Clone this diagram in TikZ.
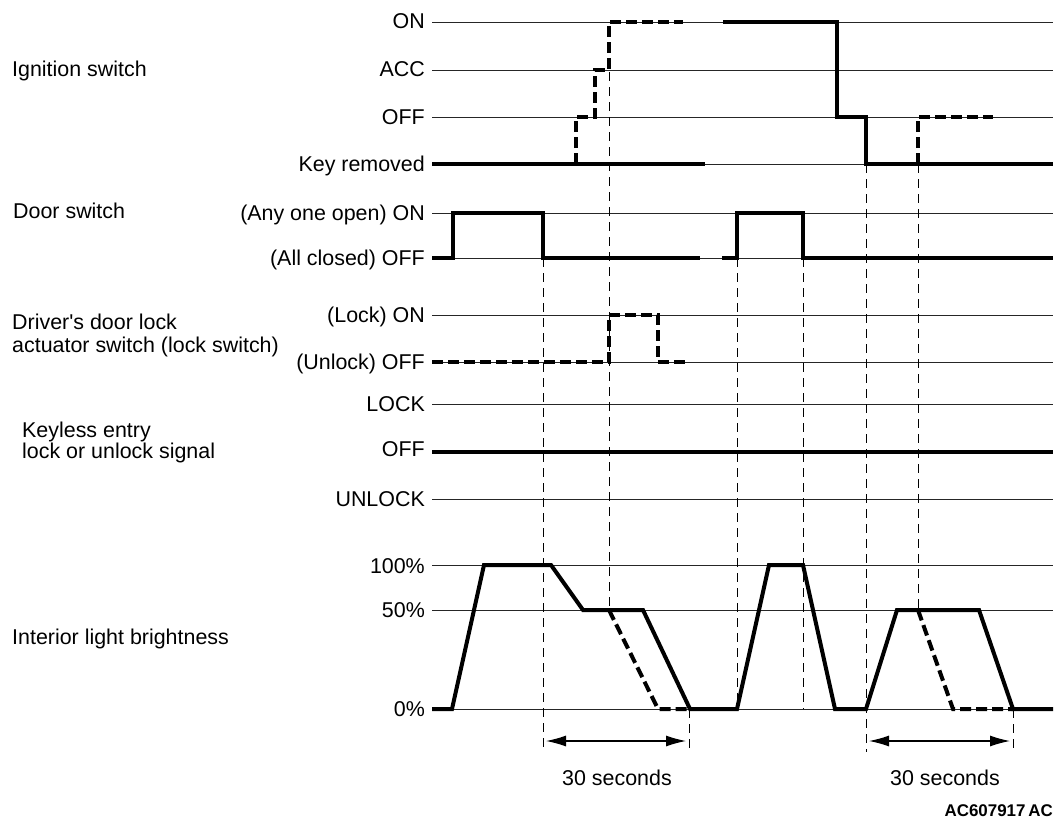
\documentclass[tikz,border=0pt]{standalone}
\usepackage{fontspec}
\setmainfont{Liberation Sans}[Ligatures=TeXOff]
\usetikzlibrary{arrows.meta}
\begin{document}
\begin{tikzpicture}[x=1bp,y=-1bp,
  grid/.style={line width=0.9bp, black!85},
  sig/.style={line width=4bp, line join=miter, line cap=butt},
  sigd/.style={sig, dash pattern=on 11bp off 5bp},
  guide/.style={line width=0.9bp, dash pattern=on 9bp off 6bp},
  lvl/.style={anchor=base east, font=\fontsize{21.5}{21.5}\selectfont, inner sep=0pt},
  ttl/.style={anchor=base west, font=\fontsize{21.5}{21.5}\selectfont, inner sep=0pt},
  dim/.style={line width=1.2bp, {Latex[length=20bp,width=11bp]}-{Latex[length=20bp,width=11bp]}}
]
\useasboundingbox (0,0) rectangle (1062,820);

% ---------- titles ----------
\node[ttl] (tIgn) at (12,77) {Ignition switch};
\node[ttl] (tDoor) at (13,218) {Door switch};
\node[ttl] (tDrv1) at (12,329) {Driver's door lock};
\node[ttl] (tDrv2) at (12,352) {actuator switch (lock switch)};
\node[ttl] (tKey1) at (22,437) {Keyless entry};
\node[ttl] (tKey2) at (22,458) {lock or unlock signal};
\node[ttl] (tInt) at (12,644) {Interior light brightness};

% ---------- level labels ----------
\node[lvl] (lOn) at (425,29) {ON};
\node[lvl] (lAcc) at (425,77) {ACC};
\node[lvl] (lOff) at (425,124) {OFF};
\node[lvl] (lKey) at (425,171) {Key removed};
\node[lvl] (lDOn) at (425,220) {(Any one open) ON};
\node[lvl] (lDOff) at (425,265) {(All closed) OFF};
\node[lvl] (lLOn) at (425,322) {(Lock) ON};
\node[lvl] (lLOff) at (425,369) {(Unlock) OFF};
\node[lvl] (lLock) at (425,411) {LOCK};
\node[lvl] (lKOff) at (425,456) {OFF};
\node[lvl] (lUnl) at (425,506) {UNLOCK};
\node[lvl] (l100) at (425,573) {100\%};
\node[lvl] (l50) at (425,617) {50\%};
\node[lvl] (l0) at (425,716) {0\%};

% ---------- grid lines ----------
\foreach \yy in {22,70,117,164,213,258,315,362,404,452,499,565,610,709}
  \draw[grid] (432,\yy) -- (1053,\yy);

% ---------- guide lines ----------
\draw[guide] (543,258) -- (543,752);
\draw[guide] (609,72) -- (609,610);
\draw[guide] (689,709) -- (689,752);
\draw[guide] (737,258) -- (737,709);
\draw[guide] (803,258) -- (803,709);
\draw[guide] (866,164) -- (866,752);
\draw[guide] (918,164) -- (918,610);
\draw[guide] (1013,709) -- (1013,752);

% ---------- ignition switch ----------
\draw[sig] (432,164) -- (705,164);
\draw[sigd] (576,164) -- (576,117) -- (595,117) -- (595,70) -- (609,70) -- (609,22) -- (683,22);
\draw[sig] (723,22) -- (837,22) -- (837,117) -- (866,117) -- (866,164) -- (1053,164);
\draw[sigd] (918,164) -- (918,117) -- (993,117);

% ---------- door switch ----------
\draw[sig] (432,258) -- (453,258) -- (453,213) -- (543,213) -- (543,258) -- (700,258);
\draw[sig] (722,258) -- (737,258) -- (737,213) -- (803,213) -- (803,258) -- (1053,258);

% ---------- lock switch ----------
\draw[sigd] (432,362) -- (609,362) -- (609,315) -- (658,315) -- (658,362) -- (687,362);

% ---------- keyless ----------
\draw[sig] (432,452) -- (1053,452);

% ---------- interior light ----------
\draw[sig] (432,709) -- (452,709) -- (484,565) -- (551,565) -- (583,610) -- (643,610)
  -- (690,709) -- (737,709) -- (769,565) -- (803,565) -- (835,709) -- (866,709)
  -- (897,610) -- (979,610) -- (1013,709) -- (1053,709);
\draw[sigd] (609,610) -- (658,709) -- (690,709);
\draw[sigd] (918,610) -- (953,709) -- (1013,709);

% ---------- 30 s dimensions ----------
\coordinate (a1) at (546,741);
\coordinate (a2) at (686,741);
\coordinate (b1) at (869,741);
\coordinate (b2) at (1010,741);
\draw[dim] (a1) -- (a2);
\draw[dim] (b1) -- (b2);
\node[anchor=base, font=\fontsize{21.5}{21.5}\selectfont, inner sep=0pt] (s1) at (617,785) {30 seconds};
\node[anchor=base, font=\fontsize{21.5}{21.5}\selectfont, inner sep=0pt] (s2) at (945,785) {30 seconds};

\node[anchor=base east, font=\fontsize{17}{17}\bfseries\selectfont, inner sep=0pt] (code) at (1053,816) {AC607917\,AC};
\end{tikzpicture}
\end{document}
